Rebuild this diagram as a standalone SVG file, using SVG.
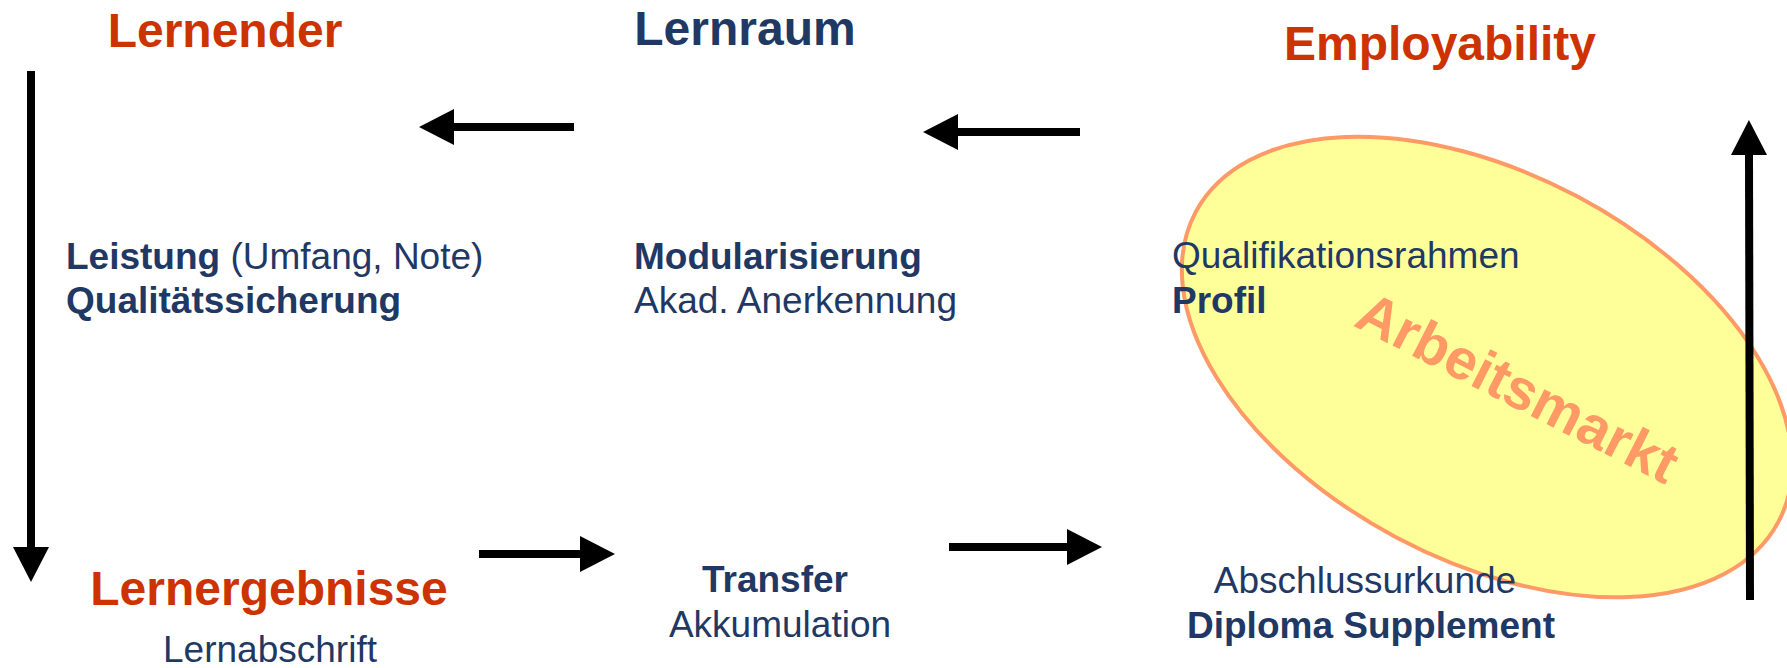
<svg xmlns="http://www.w3.org/2000/svg" width="1787" height="668" viewBox="0 0 1787 668">
<style>
text{font-family:"Liberation Sans",Arial,sans-serif}
.title{font-size:48px;font-weight:bold}
.or{fill:#CC3300}
.nv{fill:#1F3864}
.body{font-size:37px;fill:#1F3864}
.b{font-weight:bold}
.mid{text-anchor:middle}
.conn line{stroke:#000;stroke-width:8;fill:none}
</style>
<defs>
<marker id="ah" markerUnits="userSpaceOnUse" markerWidth="36" markerHeight="36" refX="0" refY="18" orient="auto" overflow="visible">
<path d="M0,0 L35,18 L0,36 z" fill="#000"/>
</marker>
</defs>
<rect width="1787" height="668" fill="#fff"/>
<g id="arbeitsmarkt">
<ellipse cx="1487" cy="367" rx="330" ry="193" transform="rotate(28 1487 367)" fill="#FFFF99" stroke="#FF9966" stroke-width="4"/>
<text x="1509" y="405" transform="rotate(27 1509 405)" class="mid b" style="font-size:57px;fill:#FF9966">Arbeitsmarkt</text>
</g>
<g id="lernender">
<text x="225" y="47" class="title or mid">Lernender</text>
<text x="66" y="269" class="body"><tspan class="b">Leistung</tspan> (Umfang, Note)</text>
<text x="66" y="313" class="body b">Qualitätssicherung</text>
</g>
<g id="lernraum">
<text x="745" y="45" class="title nv mid">Lernraum</text>
<text x="634" y="269" class="body b">Modularisierung</text>
<text x="634" y="313" class="body">Akad. Anerkennung</text>
</g>
<g id="employability">
<text x="1440" y="60" class="title or mid">Employability</text>
<text x="1172" y="268" class="body">Qualifikationsrahmen</text>
<text x="1172" y="313" class="body b">Profil</text>
</g>
<g id="lernergebnisse">
<text x="269" y="605" class="title or mid">Lernergebnisse</text>
<text x="270" y="662" class="body mid">Lernabschrift</text>
</g>
<g id="transfer">
<text x="775" y="592" class="body b mid">Transfer</text>
<text x="780" y="637" class="body mid">Akkumulation</text>
</g>
<g id="abschluss">
<text x="1365" y="593" class="body mid">Abschlussurkunde</text>
<text x="1371" y="638" class="body b mid">Diploma Supplement</text>
</g>
<g id="connectors" class="conn">
<line x1="574" y1="127" x2="454" y2="127" marker-end="url(#ah)"/>
<line x1="1080" y1="132" x2="958" y2="132" marker-end="url(#ah)"/>
<line x1="31" y1="71" x2="31" y2="547" marker-end="url(#ah)"/>
<line x1="479" y1="554" x2="580" y2="554" marker-end="url(#ah)"/>
<line x1="949" y1="547" x2="1067" y2="547" marker-end="url(#ah)"/>
<line x1="1750" y1="600" x2="1749" y2="155" marker-end="url(#ah)"/>
</g>
</svg>
